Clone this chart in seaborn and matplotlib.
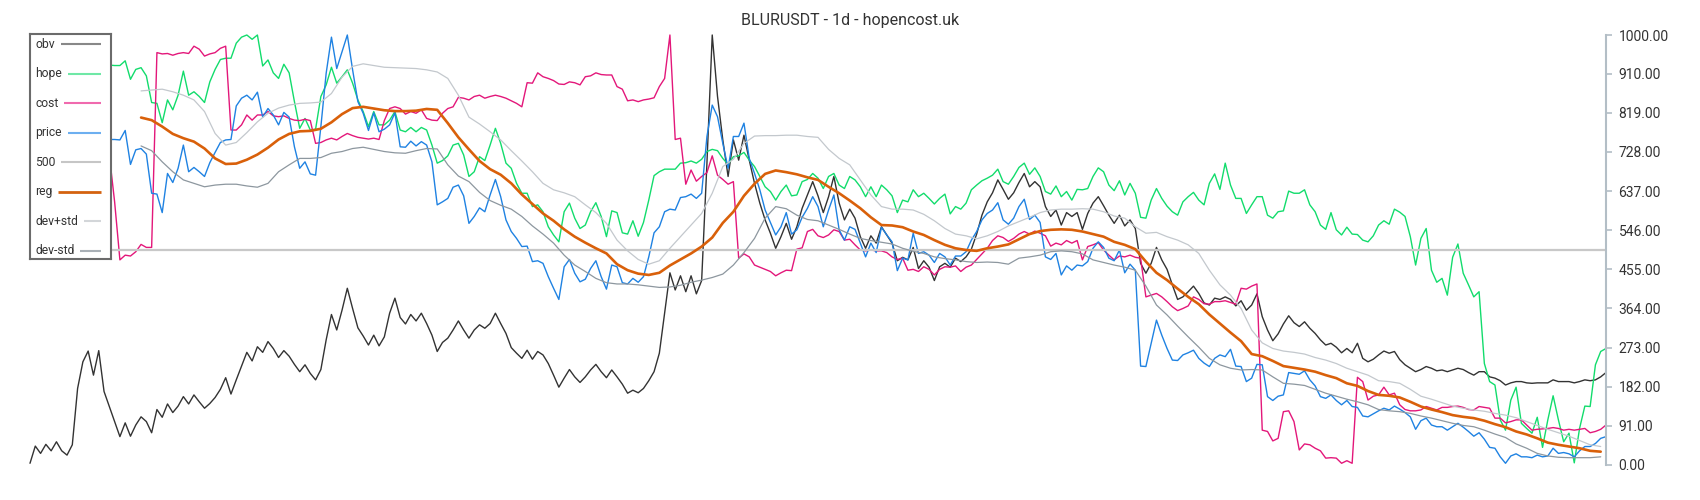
import numpy as np
import matplotlib
matplotlib.use('Agg')
import matplotlib.pyplot as plt
import seaborn as sns

title = 'BLURUSDT - 1d - hopencost.uk'
labels = ['obv', 'hope', 'cost', 'price', '500', 'reg', 'dev+std', 'dev-std']
level = 500
tick_values = [0, 91, 182, 273, 364, 455, 546, 637, 728, 819, 910, 1000]

# daily series, already scaled to 0..1000
obv = [4, 44, 27, 48, 33, 54, 33, 23, 47, 178, 240, 265, 209, 266, 171, 136, 101, 66, 98, 67,
       93, 112, 101, 75, 129, 111, 142, 122, 137, 159, 142, 163, 147, 132, 143, 157, 176,
       203, 165, 198, 230, 262, 242, 275, 262, 287, 271, 250, 266, 253, 234, 217, 233, 213, 198, 222, 291,
       350, 314, 360, 411, 364, 319, 300, 279, 302, 277, 298, 353, 388, 343, 328, 350, 335,
       353, 329, 302, 264, 285, 295, 314, 335, 314, 295, 314, 326, 318, 329, 353, 329, 306, 273, 260, 248,
       267, 246, 264, 256, 236, 209, 181, 202, 222, 205, 192, 205, 221, 234, 217, 203,
       221, 205, 188, 167, 174, 168, 178, 196, 217, 260, 353, 447, 407, 440, 403, 440, 398, 429, 702, 1000,
       857, 756, 671, 756, 709, 767, 709, 655, 609, 570, 539, 504, 531, 562, 525, 554, 597, 628,
       659, 626, 587, 624, 671, 609, 570, 595, 574, 531, 504, 533, 516, 554, 535, 516, 475, 483, 477, 506,
       457, 475, 460, 429, 461, 469, 460, 481, 473, 484, 502, 537, 581, 612, 633, 663, 641, 618,
       633, 657, 678, 647, 659, 647, 601, 578, 593, 558, 587, 578, 587, 548, 585, 609, 624, 603, 581, 562,
       581, 556, 570, 550, 469, 446, 469, 506, 477, 455, 419, 385, 391, 403, 416, 399, 377,
       372, 388, 385, 391, 385, 370, 382, 360, 372, 398, 345, 314, 289, 305, 328, 347, 331, 322, 333, 318,
       306, 291, 279, 283, 274, 261, 271, 261, 283, 248, 240, 246, 256, 265, 260, 264, 245,
       233, 225, 217, 222, 229, 225, 219, 221, 217, 221, 225, 222, 215, 209, 217, 217, 205, 202, 196, 186,
       191, 194, 194, 191, 190, 191, 191, 191, 198, 194, 194, 194, 191, 194, 198, 196, 198, 205, 215]

hope = [930, 925, 935, 930, 920, 928, 935, 930, 925, 930, 932, 928, 930, 935, 930,
        930, 929, 929, 940, 897, 920, 924, 905, 843, 841, 796, 849, 826, 860, 916, 860, 868, 857, 843,
        891, 920, 943,
        946, 946, 981, 995, 1000, 990, 1000, 928, 942, 912, 899, 932, 912, 845, 783, 806, 779, 781, 857,
        884, 925, 888, 903, 919, 888, 849, 822, 787, 822, 791, 791, 802, 822, 779, 775, 785, 775,
        785, 779, 744, 702, 708, 719, 744, 748, 721, 671, 682, 717, 708, 744, 783, 748, 702, 690, 655, 632,
        632, 601, 605, 589, 554, 535, 519, 589, 609, 574, 550, 558, 589, 610, 578, 531,
        591, 587, 540, 537, 568, 532, 564, 616, 673, 682, 688, 688, 688, 702, 703, 707, 702, 711, 729, 734,
        731, 713, 699, 717, 719, 727, 709, 694, 671, 647, 636, 616, 636, 651, 626, 628, 659, 664,
        678, 667, 643, 671, 678, 651, 643, 671, 663, 647, 624, 647, 624, 651, 640, 626, 587, 616, 612, 640,
        624, 632, 620, 607, 620, 630, 584, 601, 595, 609, 640, 651, 661, 667, 674, 688, 659, 653,
        671, 692, 702, 676, 691, 671, 636, 630, 649, 624, 636, 616, 641, 640, 643, 671, 691, 682, 651, 638,
        661, 628, 655, 632, 576, 574, 616, 643, 620, 602, 589, 581, 612, 624, 634, 616, 605,
        655, 677, 641, 702, 651, 620, 620, 585, 605, 624, 624, 581, 574, 589, 591, 637, 632, 632, 640, 605,
        589, 558, 548, 587, 547, 535, 553, 537, 536, 523, 519, 533, 558, 568, 560, 595, 588,
        578, 531, 465, 527, 550, 453, 425, 434, 395, 483, 514, 446, 419, 391, 403, 236, 194, 186, 105, 81,
        151, 181, 97, 85, 74, 111, 41, 105, 161, 105, 54, 74, 5, 85, 137, 136, 233, 264, 271]

cost = [880, 885, 890, 895, 900, 905, 900, 910, 905, 900, 895, 890, 880, 860, 820, 721, 612,
        477, 488, 486, 496, 513, 506, 506, 959, 956, 957, 953, 957, 959, 957, 974, 967, 951, 956, 959, 969,
        974, 779, 779, 791, 814, 802, 814, 814, 822, 812, 810, 812, 806, 802, 801, 804, 801, 748, 750, 756,
        760, 756, 764, 771, 766, 762, 760, 758, 760, 757, 801, 829, 833, 829, 816, 822, 818,
        826, 806, 802, 801, 818, 829, 833, 855, 853, 849, 857, 860, 853, 857, 860, 857, 853, 847, 841, 833,
        889, 888, 912, 903, 899, 894, 886, 885, 891, 889, 884, 903, 905, 912, 908, 907,
        907, 880, 874, 847, 849, 845, 849, 851, 854, 880, 899, 1000, 757, 760, 653, 686, 660, 671, 680, 719,
        674, 664, 653, 659, 481, 491, 484, 465, 460, 455, 450, 440, 447, 453, 452, 502, 505, 543,
        548, 533, 529, 535, 547, 543, 523, 525, 512, 500, 498, 500, 498, 498, 494, 484, 478, 481, 453, 455,
        450, 461, 455, 442, 455, 461, 460, 463, 450, 460, 465, 478, 491, 504, 522, 533, 529, 520,
        527, 537, 543, 537, 544, 539, 533, 509, 516, 512, 522, 516, 522, 477, 508, 512, 517, 500, 488, 477,
        486, 484, 488, 483, 481, 391, 395, 399, 391, 380, 368, 359, 364, 370, 391, 385, 375,
        374, 380, 380, 382, 378, 374, 411, 409, 416, 421, 81, 78, 56, 62, 124, 126, 101, 35, 49, 47,
        39, 33, 16, 17, 16, 4, 10, 4, 204, 194, 151, 160, 163, 181, 163, 167, 140,
        129, 126, 126, 128, 136, 132, 128, 134, 134, 136, 137, 134, 129, 128, 136, 134, 132, 109, 109, 98,
        101, 105, 105, 93, 81, 83, 84, 85, 87, 85, 81, 83, 81, 83, 85, 75, 78, 83, 93]

price = [760, 765, 770, 760, 755, 760, 765, 770, 760, 755, 760, 762, 758, 755, 757,
         757, 757, 756, 778, 699, 733, 736, 723, 632, 630, 587, 678, 657, 690, 744, 682, 692, 682, 671,
         703, 727, 750,
         756, 757, 835, 853, 860, 849, 867, 809, 829, 814, 791, 820, 809, 740, 690, 705, 677, 674, 787, 911,
         995, 922, 961, 1000, 919, 845, 818, 778, 819, 775, 781, 791, 819, 740, 739, 753, 742,
         752, 744, 705, 605, 612, 620, 646, 651, 626, 562, 578, 598, 589, 628, 664, 624, 570, 543, 527, 508,
         509, 473, 475, 469, 438, 411, 385, 461, 478, 446, 426, 432, 457, 475, 438, 409,
         465, 461, 424, 421, 434, 425, 438, 484, 540, 554, 589, 595, 593, 622, 624, 630, 620, 632, 764, 837,
         810, 748, 690, 764, 764, 795, 713, 678, 640, 593, 564, 535, 554, 587, 537, 547, 576, 597,
         624, 601, 554, 593, 628, 547, 523, 554, 548, 516, 484, 516, 494, 553, 535, 519, 452, 481, 477, 539,
         492, 496, 488, 471, 492, 484, 465, 486, 486, 496, 523, 543, 570, 585, 593, 610, 570, 560,
         574, 601, 618, 571, 581, 564, 484, 478, 492, 442, 463, 453, 465, 463, 473, 504, 519, 506, 481, 475,
         500, 447, 467, 453, 230, 229, 283, 337, 302, 271, 244, 243, 256, 261, 267, 248, 237,
         229, 248, 256, 252, 269, 230, 229, 194, 202, 234, 233, 159, 150, 160, 163, 215, 213, 211, 219, 198,
         184, 159, 155, 163, 150, 140, 150, 136, 134, 114, 112, 119, 126, 132, 128, 137, 130,
         122, 112, 83, 103, 109, 93, 89, 89, 81, 89, 97, 88, 78, 67, 75, 60, 41, 39, 19, 4,
         21, 26, 19, 19, 17, 23, 19, 21, 39, 27, 29, 26, 19, 33, 43, 43, 50, 62, 66]

# smooth series, read every second day starting at day 21
band_start, band_step = 21, 2
reg = [808, 802, 787, 770, 760, 752, 736, 713, 700, 701, 710, 722, 738, 757, 770, 776, 777, 782, 797,
       816, 830, 833, 829, 825, 823, 823, 824,
       828, 826, 795, 762, 734, 707, 688, 675, 655, 629, 607, 585, 568, 548, 531, 517, 504, 492,
       467, 453, 445, 442, 447, 464, 478, 492, 508, 529, 563, 589, 626, 654, 677, 685, 681, 676, 669,
       663, 647, 632, 615, 597, 576, 558, 557, 553, 543, 535, 523, 512, 504, 500, 498, 504, 508, 513,
       525, 537, 544, 547, 548, 547, 543, 537, 531, 519, 512, 502, 473, 447, 430, 410, 391, 374,
       350, 329, 308, 288, 258, 253, 242, 230, 226, 222, 217, 209, 202, 190, 184, 172, 163, 161, 157,
       147, 136, 129, 123, 116, 112, 109, 103, 95, 88, 78, 71, 62, 52, 47, 43, 39, 33, 31]

dev_plus = [870, 872, 874, 868, 860, 849, 822, 771, 744, 750, 773, 798, 818, 830, 837, 841, 842, 844,
            864, 902, 927, 933, 929, 925, 924, 923, 922,
            919, 914, 899, 860, 809, 793, 775, 756, 731, 707, 682, 655, 640, 633, 624, 605, 587, 562,
            523, 498, 478, 467, 475, 504, 531, 558, 585, 632, 694, 711, 748, 765, 766, 766, 767, 767, 764,
            762, 734, 713, 698, 663, 628, 601, 595, 595, 593, 583, 568, 550, 537, 533, 526, 533, 543, 556,
            566, 576, 587, 593, 595, 595, 596, 595, 589, 579, 574, 554, 539, 541, 531, 523, 512, 492,
            453, 419, 395, 364, 314, 284, 271, 265, 262, 258, 250, 244, 236, 225, 217, 209, 196, 194, 190,
            176, 160, 153, 145, 137, 132, 128, 125, 120, 116, 110, 101, 92, 83, 75, 67, 57, 47, 43]

dev_minus = [742, 731, 705, 682, 663, 655, 647, 651, 653, 653, 649, 646, 655, 682, 698, 713, 713, 715,
             725, 729, 736, 739, 734, 729, 726, 725, 731,
             736, 735, 698, 672, 659, 634, 615, 604, 595, 578, 556, 537, 516, 488, 465, 450, 434, 424,
             421, 421, 419, 416, 413, 414, 418, 425, 430, 436, 444, 465, 494, 527, 574, 601, 596, 581, 571,
             568, 558, 548, 537, 527, 522, 518, 514, 504, 497, 492, 484, 480, 477, 473, 471, 472, 471, 467,
             481, 484, 488, 496, 498, 496, 491, 477, 471, 465, 460, 453, 416, 372, 349, 323, 298, 274,
             248, 233, 225, 221, 222, 221, 205, 190, 188, 185, 176, 167, 160, 153, 147, 140, 129, 126, 124,
             120, 114, 109, 103, 97, 92, 89, 81, 72, 64, 49, 39, 27, 21, 18, 17, 17, 17, 19]

sns.set_theme(style='white')
plt.rcParams['font.family'] = ['Roboto', 'DejaVu Sans']

W, H = 1700, 500
fig = plt.figure(figsize=(W / 100, H / 100), dpi=100)
x0, x1, y0, y1 = 30, 1606, 35, 465
ax = fig.add_axes([x0 / W, 1 - y1 / H, (x1 - x0) / W, (y1 - y0) / H])

days = np.arange(len(obv))
band_days = band_start + band_step * np.arange(len(reg))

line_colors = ['#333333', '#12dc6c', '#e3177a', '#1f82e2', '#c8c8c8', '#d9600a', '#c3c8cd', '#8d979f']
legend_colors = ['#888888', '#6fe8a6', '#f06aae', '#6daff0', '#c6c6c6', '#d4620f', '#d3d6d9', '#a9b0b6']

series = [(days, obv), (days, hope), (days, cost), (days, price)]
for (xs, ys), col in zip(series, line_colors[:4]):
    sns.lineplot(x=xs, y=ys, ax=ax, color=col, lw=1.0, estimator=None, sort=False, clip_on=False)
ax.axhline(level, color=line_colors[4], lw=1.6)
sns.lineplot(x=band_days, y=reg, ax=ax, color=line_colors[5], lw=1.9, estimator=None, sort=False)
sns.lineplot(x=band_days, y=dev_plus, ax=ax, color=line_colors[6], lw=0.9, estimator=None, sort=False)
sns.lineplot(x=band_days, y=dev_minus, ax=ax, color=line_colors[7], lw=0.9, estimator=None, sort=False)

ax.set_xlim(0, len(obv) - 1)
ax.set_ylim(0, 1000)
ax.set_xlabel('')
ax.set_ylabel('')
ax.set_xticks([])
ax.yaxis.tick_right()
ax.set_yticks(tick_values)
ax.set_yticklabels([f'{v:.2f}' for v in tick_values])
ax.tick_params(axis='y', right=True, length=4, width=1.2, color='#b3bec6', labelcolor='#333333',
               labelsize=10, pad=5)
for side in ['left', 'top', 'bottom']:
    ax.spines[side].set_visible(False)
ax.spines['right'].set_color('#b3bec6')
ax.spines['right'].set_linewidth(1.5)

fig.text(0.5, 1 - 21 / H, title, ha='center', va='center', fontsize=11.5, color='#333333')

# hand-made legend box in the upper left corner
lx0, ly0, lw_, lh_ = 30, 34, 81, 225
leg = fig.add_axes([lx0 / W, 1 - (ly0 + lh_) / H, lw_ / W, lh_ / H])
leg.set_xlim(0, lw_)
leg.set_ylim(lh_, 0)
leg.set_xticks([])
leg.set_yticks([])
leg.set_facecolor('white')
for s in leg.spines.values():
    s.set_color('#6b6b6b')
    s.set_linewidth(1.5)

renderer = fig.canvas.get_renderer()
for k, (lab, col) in enumerate(zip(labels, legend_colors)):
    yy = 10 + 29.57 * k
    t = leg.text(5, yy, lab, ha='left', va='center', fontsize=8.7, color='#333333')
    bb = t.get_window_extent(renderer)
    xs = leg.transData.inverted().transform((bb.x1, 0))[0]
    leg.plot([xs + 6, 71], [yy, yy], color=col, lw=2.0 if lab == 'reg' else 1.5,
             solid_capstyle='butt')

fig.savefig('out.png', dpi=100)
